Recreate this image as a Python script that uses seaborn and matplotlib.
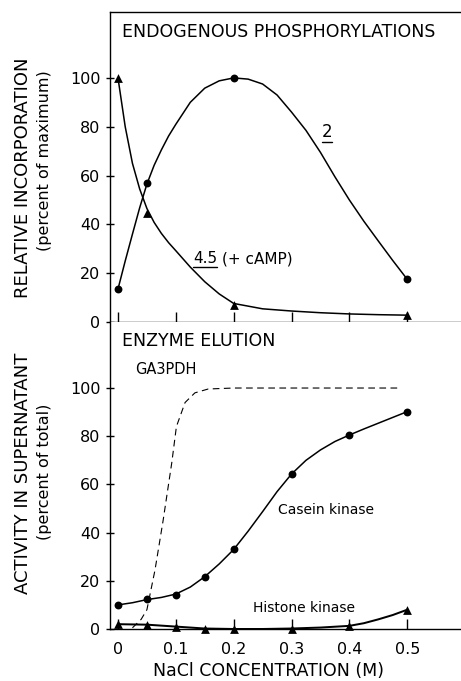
import numpy as np
import pandas as pd
import matplotlib
matplotlib.use("Agg")
import matplotlib.pyplot as plt
from matplotlib.lines import Line2D
import seaborn as sns

# ---------------- data ----------------
# Top panel: endogenous phosphorylations (percent of maximum)
nacl_top = [0.0, 0.05, 0.2, 0.5]
band2_pts = [13.5, 57.0, 100.0, 17.5]
band45_pts = [100.0, 44.8, 7.0, 3.0]

# traced smooth curves through the points
band2_curve_x = [0.0, 0.0125, 0.025, 0.0375, 0.05, 0.0625, 0.075, 0.0875, 0.1,
                 0.125, 0.15, 0.175, 0.2, 0.225, 0.25, 0.275, 0.3, 0.325, 0.35,
                 0.375, 0.4, 0.425, 0.45, 0.475, 0.5]
band2_curve_y = [13.5, 25.0, 36.0, 46.8, 56.5, 64.2, 70.5, 76.2, 81.0,
                 90.0, 95.8, 98.8, 100.0, 99.5, 97.5, 93.0, 86.0, 78.5, 69.5,
                 59.5, 50.0, 41.3, 33.2, 25.2, 17.5]
band45_curve_x = [0.0, 0.0125, 0.025, 0.0375, 0.05, 0.0625, 0.075, 0.0875, 0.1,
                  0.125, 0.15, 0.175, 0.2, 0.25, 0.3, 0.35, 0.4, 0.45, 0.5]
band45_curve_y = [100.0, 80.0, 65.0, 54.5, 46.5, 40.8, 36.3, 32.5, 29.2,
                  22.5, 16.5, 11.5, 7.6, 5.4, 4.5, 3.8, 3.3, 3.0, 2.8]

# Bottom panel: enzyme elution (percent of total)
nacl_bot = [0.0, 0.05, 0.1, 0.15, 0.2, 0.3, 0.4, 0.5]
casein_pts = [10.0, 12.3, 14.3, 21.7, 33.0, 64.3, 80.5, 90.2]
histone_pts = [2.0, 1.8, 1.0, 0.2, 0.0, 0.2, 1.3, 8.0]

casein_curve_x = [0.0, 0.025, 0.05, 0.075, 0.1, 0.125, 0.15, 0.175, 0.2, 0.225,
                  0.25, 0.275, 0.3, 0.325, 0.35, 0.375, 0.4, 0.425, 0.45, 0.475, 0.5]
casein_curve_y = [10.0, 10.9, 12.2, 13.1, 14.5, 17.4, 21.7, 27.0, 33.0, 40.6,
                  48.7, 57.0, 64.3, 70.0, 74.3, 77.8, 80.5, 83.0, 85.4, 87.8, 90.2]
histone_curve_x = [0.0, 0.05, 0.1, 0.15, 0.2, 0.25, 0.3, 0.35, 0.4, 0.425, 0.45, 0.475, 0.5]
histone_curve_y = [2.0, 1.8, 1.0, 0.2, 0.0, 0.0, 0.2, 0.6, 1.3, 2.4, 4.0, 5.8, 8.0]

ga3pdh_x = [0.025, 0.04, 0.05, 0.064, 0.078, 0.093, 0.101, 0.116, 0.133, 0.156,
            0.2, 0.3, 0.4, 0.49]
ga3pdh_y = [0.5, 4.0, 8.0, 24.5, 45.0, 69.0, 84.0, 94.0, 98.0, 99.6,
            100.0, 100.0, 100.0, 100.0]

x_ticks = [0.0, 0.1, 0.2, 0.3, 0.4, 0.5]
x_tick_labels = ["0", "0.1", "0.2", "0.3", "0.4", "0.5"]
y_ticks = [0, 20, 40, 60, 80, 100]

# ---------------- style ----------------
sns.set_theme(style="ticks")
plt.rcParams["font.family"] = ["DejaVu Sans"]
plt.rcParams["axes.linewidth"] = 1.0

W, H = 461, 681
fig = plt.figure(figsize=(W / 100, H / 100), dpi=100)
fig.patch.set_facecolor("white")

left = 110 / W
ax_top = fig.add_axes([left, 1 - 322 / H, 1 - left, (322 - 12) / H])
ax_bot = fig.add_axes([left, 1 - 629 / H, 1 - left, (629 - 322) / H])

XLIM = (-0.0138, 0.593)
LW = 1.1
MS_C = 32
MS_T = 40

line_kw = dict(color="black", sort=False, estimator=None,
               solid_joinstyle="round", solid_capstyle="round")

# ---- top panel ----
sns.lineplot(x=band2_curve_x, y=band2_curve_y, ax=ax_top, linewidth=LW, **line_kw)
sns.lineplot(x=band45_curve_x, y=band45_curve_y, ax=ax_top, linewidth=LW, **line_kw)
sns.scatterplot(x=nacl_top, y=band2_pts, ax=ax_top, marker="o", s=MS_C,
                color="black", edgecolor="black", linewidth=0, zorder=4, clip_on=False)
sns.scatterplot(x=nacl_top, y=band45_pts, ax=ax_top, marker="^", s=MS_T,
                color="black", edgecolor="black", linewidth=0, zorder=4, clip_on=False)

ax_top.set_xlim(*XLIM)
ax_top.set_ylim(0, 127)
ax_top.set_yticks(y_ticks)
ax_top.set_yticklabels([str(v) for v in y_ticks])
ax_top.set_xticks(x_ticks)
ax_top.set_xticklabels([])
ax_top.tick_params(axis="x", direction="in", length=7, width=1.0, color="black")
ax_top.tick_params(axis="y", direction="inout", length=6, width=1.0, color="black",
                   labelsize=11.5, pad=4, labelcolor="black")
ax_top.spines["right"].set_visible(False)
for s in ["left", "top", "bottom"]:
    ax_top.spines[s].set_color("black")
ax_top.set_xlabel("")
ax_top.set_ylabel("")

ax_top.text(0.007, 119, "ENDOGENOUS PHOSPHORYLATIONS", fontsize=12.5,
            ha="left", va="center", color="black")
t2 = ax_top.text(0.352, 78, "2", fontsize=12, ha="left", va="center",
                 color="black")
t45 = ax_top.text(0.13, 26, "4.5", fontsize=11, ha="left", va="center",
                  color="black")

# ---- bottom panel ----
sns.lineplot(x=ga3pdh_x, y=ga3pdh_y, ax=ax_bot, color="black", linewidth=0.8,
             sort=False, estimator=None, linestyle=(0, (6, 4)))
sns.lineplot(x=casein_curve_x, y=casein_curve_y, ax=ax_bot, linewidth=LW, **line_kw)
sns.lineplot(x=histone_curve_x, y=histone_curve_y, ax=ax_bot, linewidth=LW * 1.3,
             **line_kw)
sns.scatterplot(x=nacl_bot, y=casein_pts, ax=ax_bot, marker="o", s=MS_C,
                color="black", edgecolor="black", linewidth=0, zorder=4, clip_on=False)
sns.scatterplot(x=nacl_bot, y=histone_pts, ax=ax_bot, marker="^", s=MS_T,
                color="black", edgecolor="black", linewidth=0, zorder=4, clip_on=False)

ax_bot.set_xlim(*XLIM)
ax_bot.set_ylim(0, 127.4)
ax_bot.set_yticks(y_ticks)
ax_bot.set_yticklabels([str(v) for v in y_ticks])
ax_bot.set_xticks(x_ticks)
ax_bot.set_xticklabels(x_tick_labels)
ax_bot.tick_params(axis="x", direction="in", length=7, width=1.0, color="black",
                   labelsize=11.5, pad=9, labelcolor="black")
ax_bot.tick_params(axis="y", direction="inout", length=6, width=1.0, color="black",
                   labelsize=11.5, pad=4, labelcolor="black")
ax_bot.spines["right"].set_visible(False)
ax_bot.spines["top"].set_visible(False)
for s in ["left", "bottom"]:
    ax_bot.spines[s].set_color("black")
ax_bot.set_xlabel("")
ax_bot.set_ylabel("")

ax_bot.text(0.007, 119.6, "ENZYME ELUTION", fontsize=12.5, ha="left",
            va="center", color="black")
ax_bot.text(0.029, 107.5, "GA3PDH", fontsize=10.5, ha="left", va="center",
            color="black")
ax_bot.text(0.277, 49.4, "Casein kinase", fontsize=10, ha="left", va="center",
            color="black")
ax_bot.text(0.234, 8.9, "Histone kinase", fontsize=10, ha="left", va="center",
            color="black")

# axis titles
fig.text(268 / W, 1 - 671 / H, "NaCl CONCENTRATION (M)", fontsize=12.5,
         ha="center", va="center", color="black")
fig.text(23 / W, 1 - 178 / H, "RELATIVE INCORPORATION", fontsize=13,
         rotation=90, ha="center", va="center", color="black")
fig.text(44 / W, 1 - 161 / H, "(percent of maximum)", fontsize=11.5,
         rotation=90, ha="center", va="center", color="black")
fig.text(23 / W, 1 - 473 / H, "ACTIVITY IN SUPERNATANT", fontsize=13,
         rotation=90, ha="center", va="center", color="black")
fig.text(44 / W, 1 - 472 / H, "(percent of total)", fontsize=11.5,
         rotation=90, ha="center", va="center", color="black")

# underlines for the band numbers, and the "(+ cAMP)" suffix
fig.canvas.draw()
renderer = fig.canvas.get_renderer()
inv = fig.transFigure.inverted()
for t in (t2, t45):
    bb = t.get_window_extent(renderer)
    (x0, y0), (x1, y1) = inv.transform([(bb.x0, bb.y0 - 1), (bb.x1, bb.y0 - 1)])
    fig.add_artist(Line2D([x0, x1], [y0, y1], color="black", linewidth=1.0,
                          transform=fig.transFigure))
bb = t45.get_window_extent(renderer)
xs, ys = inv.transform((bb.x1 + 5, (bb.y0 + bb.y1) / 2))
fig.text(xs, ys, "(+ cAMP)", fontsize=11, ha="left", va="center", color="black")

fig.savefig("out.png", dpi=100, facecolor="white")
